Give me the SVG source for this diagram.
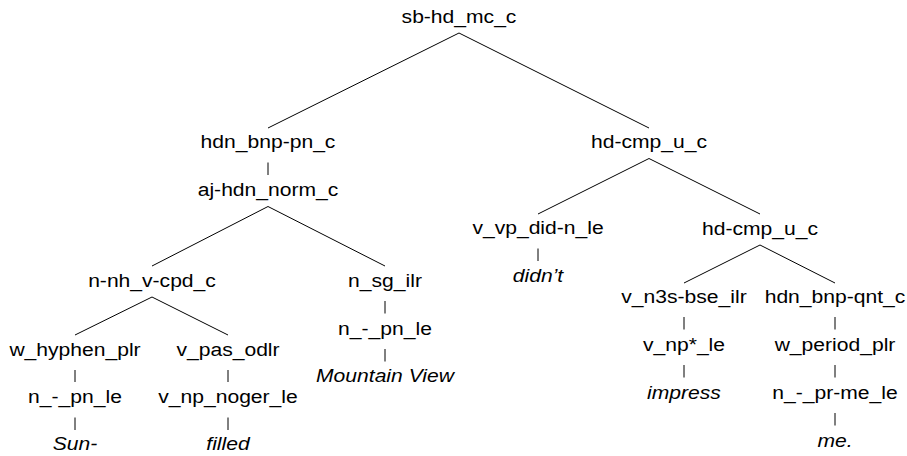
<svg xmlns="http://www.w3.org/2000/svg" width="907" height="456" viewBox="0 0 907 456">
<style>
text{font-family:"Liberation Sans",Arial,sans-serif;font-size:19px;fill:#000;text-anchor:middle}
.w{font-style:italic}
#connectors line{stroke:#000;stroke-width:1}
</style>
<rect width="907" height="456" fill="#fff"/>
<g id="connectors">
<line x1="459" y1="33" x2="268" y2="128"/>
<line x1="459" y1="33" x2="649" y2="128"/>
<line x1="268" y1="162.5" x2="268" y2="175"/>
<line x1="268" y1="206.5" x2="152" y2="266"/>
<line x1="268" y1="206.5" x2="385" y2="266"/>
<line x1="152" y1="297" x2="75" y2="335"/>
<line x1="152" y1="297" x2="228" y2="335"/>
<line x1="75" y1="370" x2="75" y2="382"/>
<line x1="75" y1="417.5" x2="75" y2="430"/>
<line x1="228" y1="370" x2="228" y2="382"/>
<line x1="228" y1="417.5" x2="228" y2="430"/>
<line x1="385" y1="301" x2="385" y2="313.5"/>
<line x1="385" y1="349" x2="385" y2="361.5"/>
<line x1="649" y1="158.5" x2="538" y2="214"/>
<line x1="649" y1="158.5" x2="760" y2="214"/>
<line x1="538" y1="248.5" x2="538" y2="261"/>
<line x1="760" y1="245" x2="684" y2="283"/>
<line x1="760" y1="245" x2="835" y2="283"/>
<line x1="684" y1="317" x2="684" y2="329.5"/>
<line x1="684" y1="365" x2="684" y2="377.5"/>
<line x1="835" y1="317" x2="835" y2="329.5"/>
<line x1="835" y1="365" x2="835" y2="377.5"/>
<line x1="835" y1="413" x2="835" y2="425.5"/>
</g>
<g id="n-root"><text transform="translate(459,22.5) scale(1.11,1)">sb-hd_mc_c</text></g>
<g id="n-hdn-bnp-pn"><text transform="translate(268,148) scale(1.11,1)">hdn_bnp-pn_c</text></g>
<g id="n-aj-hdn"><text transform="translate(268,196) scale(1.11,1)">aj-hdn_norm_c</text></g>
<g id="n-nnh"><text transform="translate(152,286.5) scale(1.11,1)">n-nh_v-cpd_c</text></g>
<g id="n-whyphen"><text transform="translate(75,355.5) scale(1.11,1)">w_hyphen_plr</text></g>
<g id="n-npnle1"><text transform="translate(75,403) scale(1.11,1)">n_-_pn_le</text></g>
<g id="n-sun"><text class="w" transform="translate(75,450) scale(1.11,1)">Sun-</text></g>
<g id="n-vpas"><text transform="translate(228,355.5) scale(1.11,1)">v_pas_odlr</text></g>
<g id="n-vnpnoger"><text transform="translate(228,403) scale(1.11,1)">v_np_noger_le</text></g>
<g id="n-filled"><text class="w" transform="translate(228,450) scale(1.11,1)">filled</text></g>
<g id="n-nsgilr"><text transform="translate(385,286.5) scale(1.11,1)">n_sg_ilr</text></g>
<g id="n-npnle2"><text transform="translate(385,334.5) scale(1.11,1)">n_-_pn_le</text></g>
<g id="n-mv"><text class="w" transform="translate(385,382) scale(1.11,1)">Mountain View</text></g>
<g id="n-hdcmp1"><text transform="translate(649,148) scale(1.11,1)">hd-cmp_u_c</text></g>
<g id="n-vvpdid"><text transform="translate(538,234) scale(1.11,1)">v_vp_did-n_le</text></g>
<g id="n-didnt"><text class="w" transform="translate(538,282) scale(1.11,1)">didn’t</text></g>
<g id="n-hdcmp2"><text transform="translate(760,234.5) scale(1.11,1)">hd-cmp_u_c</text></g>
<g id="n-vn3s"><text transform="translate(684,302.5) scale(1.11,1)">v_n3s-bse_ilr</text></g>
<g id="n-vnp"><text transform="translate(684,350.5) scale(1.11,1)">v_np*_le</text></g>
<g id="n-impress"><text class="w" transform="translate(684,398.5) scale(1.11,1)">impress</text></g>
<g id="n-hdnqnt"><text transform="translate(835,302.5) scale(1.11,1)">hdn_bnp-qnt_c</text></g>
<g id="n-wperiod"><text transform="translate(835,350.5) scale(1.11,1)">w_period_plr</text></g>
<g id="n-nprme"><text transform="translate(835,398.5) scale(1.11,1)">n_-_pr-me_le</text></g>
<g id="n-me"><text class="w" transform="translate(835,446.5) scale(1.11,1)">me.</text></g>
</svg>
